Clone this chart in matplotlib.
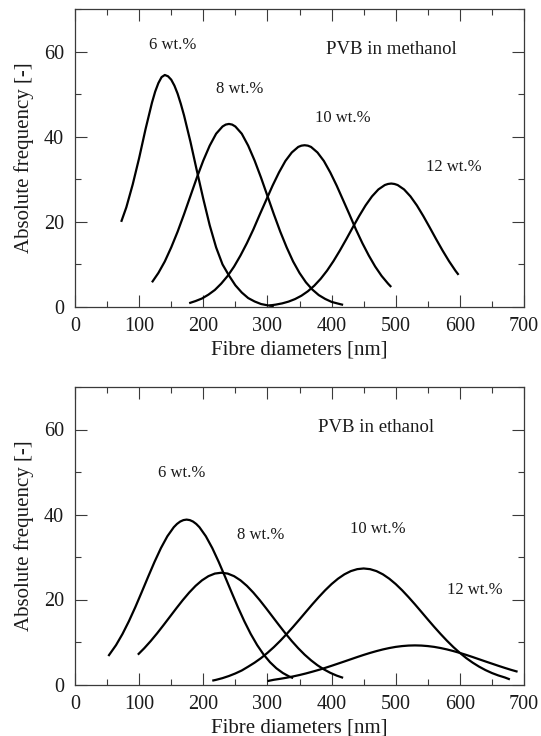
import matplotlib
matplotlib.use("Agg")
import matplotlib.pyplot as plt
from matplotlib.ticker import MultipleLocator

plt.rcParams['font.family'] = ['Liberation Serif', 'DejaVu Serif']

# ---------------- data: PVB in methanol ----------------
m6_x = [72, 80, 90, 100, 110, 120, 125, 130, 135, 140, 145, 150, 155, 160, 165, 170, 180, 190, 200, 210,
        220, 230, 240, 250, 260, 270, 280, 290, 300, 310]
m6_y = [20.0, 23.4, 28.8, 35.0, 41.8, 48.0, 50.6, 52.6, 54.0, 54.5, 54.2, 53.4, 52.0, 50.1, 47.7, 45.0, 38.8, 32.0, 25.4, 19.2,
        14.0, 10.0, 7.4, 5.1, 3.4, 2.1, 1.3, 0.7, 0.4, 0.2]

m8_x = [120, 130, 140, 150, 160, 170, 180, 190, 200, 210, 220, 230, 235, 240, 245, 250, 260, 270,
        280, 290, 300, 310, 320, 330, 340, 350, 360, 370, 380, 390, 400, 410, 418]
m8_y = [5.8, 8.0, 10.7, 14.0, 17.7, 21.8, 26.1, 30.4, 34.4, 37.9, 40.7, 42.4, 42.85, 43.0, 42.85, 42.4, 40.7, 37.9,
        34.4, 30.4, 26.1, 21.8, 17.7, 14.0, 10.7, 8.0, 5.8, 4.1, 2.8, 1.9, 1.2, 0.8, 0.5]

m10_x = [178, 188, 198, 208, 218, 228, 238, 248, 258, 268, 278, 288, 298, 308, 318, 328, 338,
         348, 353, 358, 363, 368, 378, 388, 398, 408, 418, 428, 438, 448, 458, 468, 478, 488, 493]
m10_y = [0.9, 1.4, 2.0, 2.9, 4.0, 5.5, 7.3, 9.5, 12.1, 15.0, 18.2, 21.7, 25.1, 28.5, 31.6, 34.3, 36.3,
         37.6, 37.9, 38.0, 37.9, 37.6, 36.3, 34.3, 31.6, 28.5, 25.1, 21.7, 18.2, 15.0, 12.1, 9.5, 7.3, 5.5, 4.7]

m12_x = [303, 313, 323, 333, 343, 353, 363, 373, 383, 393, 403, 413, 423, 433, 443, 453,
         463, 473, 483, 488, 493, 498, 503, 513, 523, 533, 543, 553, 563, 573, 583, 593, 598]
m12_y = [0.35, 0.56, 0.85, 1.27, 1.86, 2.65, 3.69, 5.0, 6.62, 8.55, 10.79, 13.28, 15.94, 18.69, 21.37, 23.86,
         25.98, 27.62, 28.65, 28.9, 29.0, 28.9, 28.65, 27.62, 25.98, 23.86, 21.37, 18.69, 15.94, 13.28, 10.79, 8.55, 7.55]

# ---------------- data: PVB in ethanol ----------------
e6_x = [52, 64, 74, 84, 94, 104, 114, 124, 134, 144, 154, 159, 164, 169, 174, 179, 184, 189, 194, 204, 214,
        224, 234, 244, 254, 264, 274, 284, 294, 304, 314, 324, 334, 340]
e6_y = [6.7, 9.27, 11.88, 14.88, 18.19, 21.73, 25.34, 28.86, 32.11, 34.88, 37.01, 37.78, 38.34, 38.68, 38.8, 38.68, 38.34,
        37.78, 37.01, 34.88, 32.11,
        28.86, 25.34, 21.73, 18.19, 14.88, 11.88, 9.27, 7.06, 5.25, 3.81, 2.71, 1.88, 1.5]

e8_x = [98, 108, 118, 128, 138, 148, 158, 168, 178, 188, 198, 208, 218, 228, 238, 248, 258,
        268, 278, 288, 298, 308, 318, 328, 338, 348, 358, 368, 378, 388, 398, 408, 418]
e8_y = [7.02, 8.54, 10.22, 12.04, 13.97, 15.95, 17.93, 19.85, 21.63, 23.21, 24.51, 25.49, 26.1, 26.3, 26.1, 25.49, 24.51,
        23.21, 21.63, 19.85, 17.93, 15.95, 13.97, 12.04, 10.22, 8.54, 7.02, 5.69, 4.53, 3.56, 2.75, 2.09, 1.57]

e10_x = [214, 220, 230, 240, 250, 260, 270, 280, 290, 300, 310, 320, 330, 340, 350, 360, 370, 380,
         390, 400, 410, 420, 430, 440, 450, 460, 470, 480, 490, 500, 510, 520, 530, 540, 550,
         560, 570, 580, 590, 600, 610, 620, 630, 640, 650, 660, 670, 678]
e10_y = [0.9, 1.1, 1.5, 2.0, 2.6, 3.3, 4.2, 5.14, 6.21, 7.44, 8.79, 10.28, 11.88, 13.56, 15.31, 17.09, 18.86, 20.56,
         22.17, 23.63, 24.89, 25.92, 26.68, 27.14, 27.3, 27.14, 26.68, 25.92, 24.89, 23.63, 22.17, 20.56, 18.86, 17.09, 15.31,
         13.56, 11.88, 10.28, 8.79, 7.44, 6.21, 5.14, 4.20, 3.39, 2.70, 2.13, 1.66, 1.2]

e12_x = [300, 310, 320, 330, 340, 350, 360, 370, 380, 390, 400, 410, 420, 430, 440, 450, 460, 470, 480, 490,
         500, 510, 520, 530, 540, 550, 560, 570, 580, 590, 600, 610, 620, 630, 640, 650, 660, 670, 680, 690]
e12_y = [0.8, 1.11, 1.34, 1.60, 1.90, 2.23, 2.60, 3.01, 3.44, 3.91, 4.40, 4.91, 5.42, 5.94, 6.46, 6.96, 7.43, 7.86, 8.25, 8.58,
         8.85, 9.04, 9.16, 9.2, 9.16, 9.04, 8.85, 8.58, 8.25, 7.86, 7.43, 6.96, 6.46, 5.94, 5.42, 4.91, 4.40, 3.91, 3.44, 3.01]

labels = ["6 wt.%", "8 wt.%", "10 wt.%", "12 wt.%"]
m_label_pos = [(153, 61.6), (256, 51.2), (418, 44.3), (590, 33.0)]
e_label_pos = [(167, 49.7), (290, 35.1), (472, 36.7), (623, 22.2)]
titles = ["PVB in methanol", "PVB in ethanol"]
title_pos = [(493, 60.4), (469, 60.5)]

xlabel = "Fibre diameters [nm]"
ylabel = "Absolute frequency [-]"

W, H = 541, 736
fig = plt.figure(figsize=(W / 100, H / 100), dpi=100)
ax1 = fig.add_axes([75 / W, 1 - 307 / H, 449 / W, 298 / H])
ax2 = fig.add_axes([75 / W, 1 - 684.5 / H, 449 / W, 297.5 / H])

spine_col = '#3a3a3a'


def style(ax):
    ax.set_xlim(0, 700)
    ax.set_ylim(0, 70)
    ax.xaxis.set_major_locator(MultipleLocator(100))
    ax.xaxis.set_minor_locator(MultipleLocator(50))
    ax.yaxis.set_major_locator(MultipleLocator(20))
    ax.yaxis.set_minor_locator(MultipleLocator(10))
    ax.tick_params(which='both', direction='in', top=True, right=True,
                   width=0.8, color=spine_col, labelsize=14.5, labelcolor='#1a1a1a')
    ax.tick_params(which='major', length=8.6)
    ax.tick_params(which='minor', length=4.3)
    ax.tick_params(axis='x', pad=7.5)
    ax.tick_params(axis='y', pad=8)
    for s in ax.spines.values():
        s.set_color(spine_col)
        s.set_linewidth(0.9)
    ax.set_xlabel(xlabel, fontsize=15, labelpad=3, color='#1a1a1a')
    ax.set_ylabel(ylabel, fontsize=15, labelpad=7, color='#1a1a1a')


series_m = [(m6_x, m6_y), (m8_x, m8_y), (m10_x, m10_y), (m12_x, m12_y)]
series_e = [(e6_x, e6_y), (e8_x, e8_y), (e10_x, e10_y), (e12_x, e12_y)]

for ax, series, lpos, title, tpos in [(ax1, series_m, m_label_pos, titles[0], title_pos[0]),
                                       (ax2, series_e, e_label_pos, titles[1], title_pos[1])]:
    style(ax)
    for (x, y) in series:
        ax.plot(x, y, color='black', lw=1.6, solid_capstyle='butt', solid_joinstyle='round')
    for lab, (lx, ly) in zip(labels, lpos):
        ax.text(lx, ly, lab, fontsize=12, ha='center', va='center', color='#1a1a1a')
    ax.text(tpos[0], tpos[1], title, fontsize=13.5, ha='center', va='center', color='#1a1a1a')

fig.savefig('out.png', dpi=100)
